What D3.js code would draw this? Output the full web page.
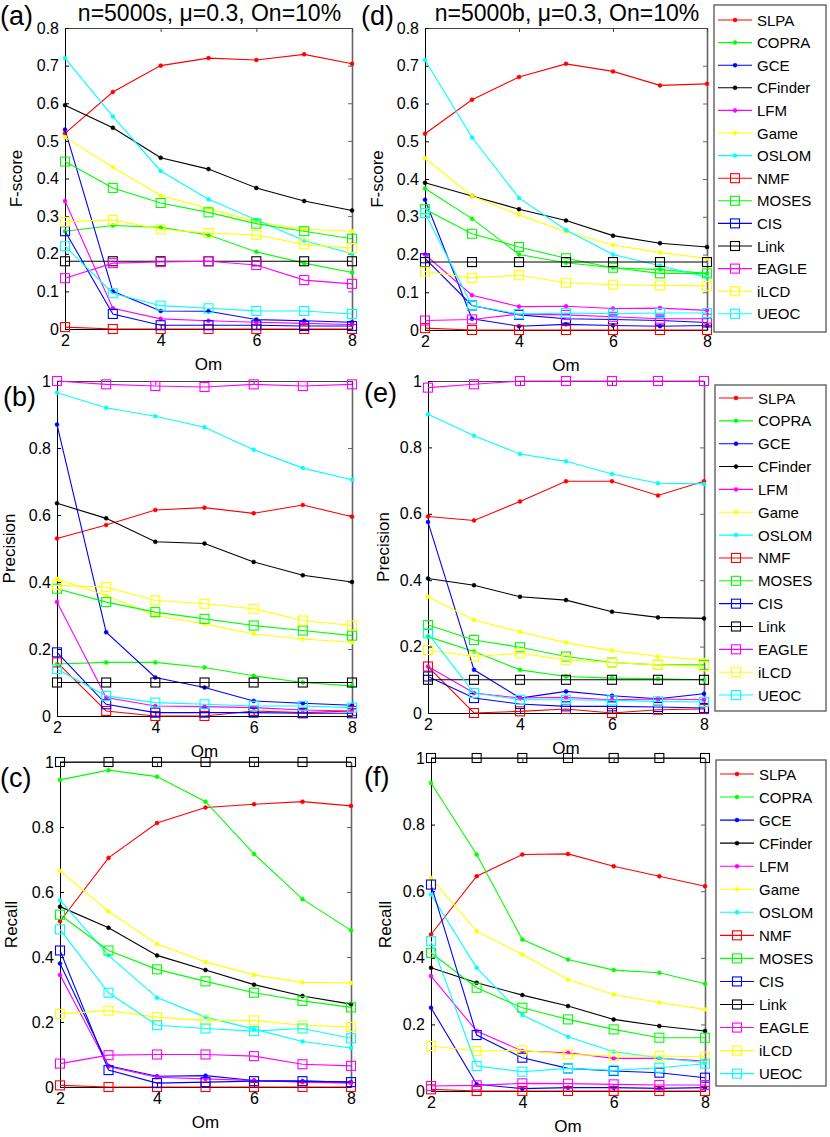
<!DOCTYPE html>
<html><head><meta charset="utf-8">
<script src="https://cdn.jsdelivr.net/npm/d3@7"></script>
<style>body{margin:0;background:#fff} svg text{font-family:"Liberation Sans",Arial,sans-serif}</style>
</head><body><svg id="c" width="830" height="1137"></svg>
<script>
const omValues = [2,3,4,5,6,7,8];
const xTicks = [2,4,6,8];
const fTicks = [0,0.1,0.2,0.3,0.4,0.5,0.6,0.7,0.8];
const prTicks = [0,0.2,0.4,0.6,0.8,1];
const methods = ["SLPA","COPRA","GCE","CFinder","LFM","Game","OSLOM","NMF","MOSES","CIS","Link","EAGLE","iLCD","UEOC"];
const seriesColors = ["#ff0000","#00ff00","#0000ff","#000000","#ff00ff","#ffff00","#00ffff",
                      "#ff0000","#00ff00","#0000ff","#000000","#ff00ff","#ffff00","#00ffff"];
const seriesMarkers = ["dot","dot","dot","dot","dot","dot","dot","square","square","square","square","square","square","square"];

// (a) F-score, n=5000s
const fscoreS = [
  [0.52,0.63,0.70,0.72,0.715,0.73,0.705],
  [0.26,0.275,0.27,0.25,0.205,0.175,0.15],
  [0.53,0.10,0.048,0.047,0.025,0.022,0.018],
  [0.595,0.535,0.455,0.425,0.375,0.34,0.315],
  [0.34,0.055,0.027,0.022,0.018,0.015,0.012],
  [0.51,0.43,0.355,0.32,0.285,0.265,0.26],
  [0.72,0.565,0.42,0.345,0.29,0.235,0.20],
  [0.005,0,0,0,0,0,0],
  [0.445,0.375,0.335,0.31,0.28,0.26,0.24],
  [0.26,0.04,0.01,0.01,0.01,0.008,0.008],
  [0.18,0.18,0.18,0.18,0.18,0.18,0.18],
  [0.135,0.175,0.178,0.18,0.17,0.13,0.12],
  [0.285,0.29,0.265,0.255,0.25,0.225,0.215],
  [0.22,0.095,0.062,0.055,0.048,0.048,0.04]
];
// (d) F-score, n=5000b
const fscoreB = [
  [0.52,0.61,0.67,0.705,0.685,0.648,0.652],
  [0.375,0.295,0.20,0.178,0.165,0.16,0.15],
  [0.345,0.03,0.01,0.015,0.012,0.01,0.012],
  [0.39,0.355,0.32,0.29,0.25,0.23,0.22],
  [0.20,0.092,0.062,0.063,0.057,0.058,0.052],
  [0.455,0.355,0.305,0.26,0.225,0.205,0.19],
  [0.715,0.51,0.35,0.265,0.20,0.17,0.14],
  [0.005,0,0,0,0,0,0],
  [0.32,0.255,0.22,0.19,0.165,0.15,0.15],
  [0.19,0.065,0.04,0.03,0.028,0.025,0.02],
  [0.18,0.18,0.18,0.18,0.18,0.18,0.18],
  [0.025,0.028,0.042,0.04,0.035,0.03,0.03],
  [0.155,0.138,0.145,0.125,0.12,0.118,0.117],
  [0.31,0.065,0.042,0.045,0.043,0.045,0.045]
];
// (b) Precision, n=5000s
const precisionS = [
  [0.53,0.57,0.615,0.622,0.605,0.63,0.595],
  [0.155,0.16,0.16,0.145,0.12,0.10,0.09],
  [0.87,0.25,0.115,0.085,0.045,0.038,0.032],
  [0.635,0.59,0.52,0.515,0.46,0.42,0.40],
  [0.34,0.055,0.03,0.028,0.025,0.018,0.015],
  [0.41,0.36,0.30,0.275,0.245,0.23,0.22],
  [0.965,0.92,0.895,0.862,0.795,0.74,0.705],
  [0.16,0.015,0,0,0.015,0.01,0.015],
  [0.38,0.34,0.31,0.29,0.27,0.255,0.24],
  [0.19,0.035,0.01,0.01,0.01,0.008,0.008],
  [0.10,0.10,0.10,0.10,0.10,0.10,0.10],
  [1.0,0.99,0.985,0.982,0.99,0.985,0.99],
  [0.39,0.385,0.345,0.335,0.32,0.285,0.27],
  [0.14,0.06,0.04,0.035,0.03,0.03,0.025]
];
// (e) Precision, n=5000b
const precisionB = [
  [0.592,0.58,0.637,0.698,0.698,0.655,0.698],
  [0.23,0.185,0.13,0.11,0.105,0.103,0.10],
  [0.575,0.13,0.045,0.065,0.052,0.043,0.058],
  [0.405,0.385,0.35,0.34,0.305,0.288,0.285],
  [0.14,0.06,0.045,0.047,0.04,0.042,0.04],
  [0.35,0.28,0.245,0.212,0.188,0.17,0.16],
  [0.90,0.835,0.78,0.758,0.72,0.692,0.69],
  [0.14,0,0.005,0.012,0,0.01,0.012],
  [0.265,0.22,0.198,0.17,0.152,0.145,0.145],
  [0.11,0.045,0.027,0.02,0.02,0.018,0.015],
  [0.10,0.10,0.10,0.10,0.10,0.10,0.10],
  [0.98,0.99,1.0,1.0,1.0,1.0,1.0],
  [0.19,0.17,0.18,0.16,0.152,0.145,0.14],
  [0.24,0.06,0.04,0.04,0.038,0.035,0.033]
];
// (c) Recall, n=5000s
const recallS = [
  [0.51,0.705,0.812,0.86,0.87,0.878,0.865],
  [0.945,0.975,0.955,0.878,0.717,0.578,0.482],
  [0.38,0.065,0.033,0.035,0.02,0.018,0.015],
  [0.555,0.49,0.405,0.36,0.315,0.28,0.255],
  [0.345,0.063,0.03,0.025,0.02,0.015,0.012],
  [0.665,0.54,0.44,0.385,0.345,0.322,0.32],
  [0.575,0.405,0.275,0.215,0.178,0.14,0.12],
  [0.005,0,0,0,0,0,0],
  [0.53,0.42,0.362,0.325,0.29,0.265,0.245],
  [0.42,0.052,0.012,0.015,0.018,0.018,0.015],
  [1,1,1,1,1,1,1],
  [0.072,0.098,0.1,0.1,0.095,0.07,0.065],
  [0.225,0.235,0.215,0.205,0.205,0.19,0.185],
  [0.485,0.29,0.19,0.18,0.172,0.18,0.15]
];
// (f) Recall, n=5000b
const recallB = [
  [0.47,0.645,0.71,0.712,0.675,0.645,0.615],
  [0.925,0.71,0.455,0.395,0.363,0.355,0.322],
  [0.25,0.02,0.007,0.01,0.01,0.008,0.01],
  [0.37,0.325,0.288,0.255,0.215,0.195,0.18],
  [0.345,0.18,0.12,0.115,0.098,0.098,0.09],
  [0.64,0.48,0.41,0.335,0.29,0.266,0.245],
  [0.59,0.37,0.228,0.163,0.118,0.1,0.085],
  [0.005,0,0,0,0,0,0],
  [0.415,0.31,0.25,0.215,0.185,0.16,0.16],
  [0.62,0.168,0.10,0.068,0.06,0.055,0.04],
  [1,1,1,1,1,1,1],
  [0.015,0.017,0.023,0.022,0.02,0.018,0.018],
  [0.135,0.12,0.122,0.11,0.105,0.105,0.103],
  [0.45,0.075,0.058,0.068,0.062,0.07,0.082]
];

const titleS = "n=5000s, μ=0.3, On=10%";
const titleB = "n=5000b, μ=0.3, On=10%";

const panels = [
  {tag:"(a)", data:fscoreS, ticks:fTicks, ymax:0.8, ylabel:"F-score", title:titleS,
   l:65,r:352,t:28,b:329, tagX:0, tagY:25, ylx:16},
  {tag:"(d)", data:fscoreB, ticks:fTicks, ymax:0.8, ylabel:"F-score", title:titleB,
   l:425,r:707,t:28,b:330, tagX:361, tagY:25, ylx:377},
  {tag:"(b)", data:precisionS, ticks:prTicks, ymax:1, ylabel:"Precision",
   l:57,r:352,t:381,b:716, tagX:3, tagY:406, ylx:9},
  {tag:"(e)", data:precisionB, ticks:prTicks, ymax:1, ylabel:"Precision",
   l:428,r:704,t:381,b:713, tagX:364, tagY:402, ylx:383},
  {tag:"(c)", data:recallS, ticks:prTicks, ymax:1, ylabel:"Recall",
   l:60,r:351,t:762,b:1087, tagX:0, tagY:787, ylx:11},
  {tag:"(f)", data:recallB, ticks:prTicks, ymax:1, ylabel:"Recall",
   l:431,r:705,t:758,b:1091, tagX:364, tagY:786, ylx:385}
];

const legends = [
  {x:714,y:5,w:112,h:327,y0:20,step:22.6},
  {x:715,y:385,w:111,h:326,y0:398,step:22.85},
  {x:716,y:760,w:110,h:326,y0:774,step:23.05}
];

const svg = d3.select("#c");
const FONT = '"Liberation Sans",Arial,sans-serif';
const fmt = d => String(+d.toFixed(1));

function drawMarker(g, kind, cx, cy, color){
  if(kind==="dot"){
    g.append("circle").attr("cx",cx).attr("cy",cy).attr("r",2).attr("fill",color).attr("stroke",color).attr("stroke-width",0.5);
  } else {
    g.append("rect").attr("x",cx-4.5).attr("y",cy-4.5).attr("width",9).attr("height",9)
      .attr("fill","none").attr("stroke",color).attr("stroke-width",1.1);
  }
}

panels.forEach(p=>{
  const x = d3.scaleLinear().domain([2,8]).range([p.l,p.r]);
  const y = d3.scaleLinear().domain([0,p.ymax]).range([p.b,p.t]);
  const g = svg.append("g");

  const styleAxis = (sel,color)=>sel.attr("font-family",FONT).attr("font-size",16).attr("color",color);

  g.append("g").attr("transform",`translate(${p.r},0)`)
    .call(d3.axisRight(y).tickValues(p.ticks).tickSizeInner(-4).tickSizeOuter(0).tickFormat(""))
    .call(s=>styleAxis(s,"#666")).select(".domain").attr("stroke-width",1.6);
  g.append("g").attr("transform",`translate(0,${p.t})`)
    .call(d3.axisTop(x).tickValues(xTicks).tickSizeInner(-4).tickSizeOuter(0).tickFormat(""))
    .call(s=>styleAxis(s,"#444"));
  g.append("g").attr("transform",`translate(0,${p.b})`)
    .call(d3.axisBottom(x).tickValues(xTicks).tickSizeInner(-4).tickSizeOuter(0).tickPadding(6).tickFormat(d3.format("d")))
    .call(s=>styleAxis(s,"#000"));
  g.append("g").attr("transform",`translate(${p.l},0)`)
    .call(d3.axisLeft(y).tickValues(p.ticks).tickSizeInner(-4).tickSizeOuter(0).tickPadding(6).tickFormat(fmt))
    .call(s=>styleAxis(s,"#000"));

  const line = d3.line().x((d,i)=>x(omValues[i])).y(d=>y(d));
  p.data.forEach((vals,k)=>{
    const c = seriesColors[k];
    g.append("path").attr("d",line(vals)).attr("fill","none").attr("stroke",c).attr("stroke-width",1.1);
    const mg = g.append("g");
    vals.forEach((v,i)=>drawMarker(mg, seriesMarkers[k], x(omValues[i]), y(v), c));
  });

  g.append("text").attr("x",(p.l+p.r)/2).attr("y",p.b+41).attr("text-anchor","middle")
    .attr("font-size",17).text("Om");
  g.append("text").attr("transform",`translate(${p.ylx},${(p.t+p.b)/2}) rotate(-90)`)
    .attr("text-anchor","middle").attr("dominant-baseline","central").attr("font-size",17).text(p.ylabel);
  g.append("text").attr("x",p.tagX).attr("y",p.tagY).attr("font-size",27).text(p.tag);
  if(p.title){
    g.append("text").attr("x",(p.l+p.r)/2+1).attr("y",21).attr("text-anchor","middle")
      .attr("font-size",23).text(p.title);
  }
});

legends.forEach(L=>{
  const g = svg.append("g");
  g.append("rect").attr("x",L.x).attr("y",L.y).attr("width",L.w).attr("height",L.h)
    .attr("fill","#fff").attr("stroke","#555").attr("stroke-width",1.3);
  methods.forEach((m,k)=>{
    const yy = L.y0 + k*L.step;
    const c = seriesColors[k];
    g.append("line").attr("x1",L.x+4).attr("x2",L.x+38).attr("y1",yy).attr("y2",yy).attr("stroke",c).attr("stroke-width",1.1);
    drawMarker(g, seriesMarkers[k], L.x+21, yy, c);
    g.append("text").attr("x",L.x+43).attr("y",yy).attr("dominant-baseline","central")
      .attr("font-size",15).text(m);
  });
});
</script></body></html>
